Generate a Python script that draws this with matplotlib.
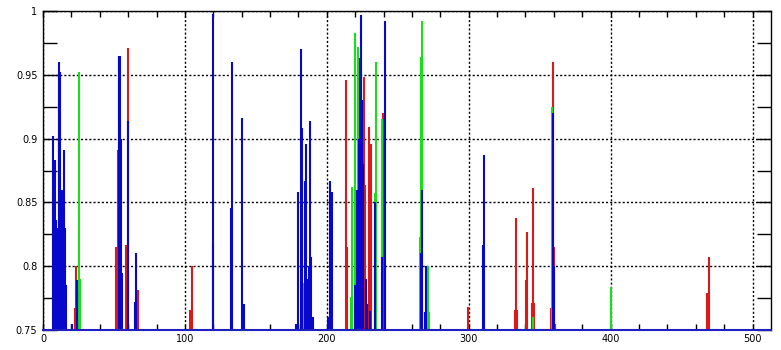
import matplotlib
matplotlib.use("Agg")
import matplotlib.pyplot as plt
from matplotlib.ticker import MultipleLocator

# Spike positions (x) and peak values (y) for each series
red_x = [22.5, 23.2, 51.4, 52.6, 53.3, 58.2, 59.6, 66.7, 103.5, 105.2, 213.3, 214.0,
         226.0, 226.8, 229.8, 231.0, 239.7, 299.5, 332.5, 333.1, 334.0, 340.5, 341.3,
         344.6, 345.3, 346.0, 358.0, 359.4, 360.0, 361.0, 467.8, 469.0]
red_y = [0.767, 0.800, 0.815, 0.891, 0.965, 0.817, 0.971, 0.781, 0.766, 0.800, 0.946, 0.815,
         0.948, 0.864, 0.909, 0.896, 0.920, 0.768, 0.766, 0.838, 0.766, 0.789, 0.827,
         0.771, 0.861, 0.771, 0.767, 0.960, 0.815, 0.755, 0.779, 0.807]

green_x = [25.4, 26.2, 183.3, 216.7, 217.8, 220.2, 222.0, 224.4, 233.8, 234.5, 239.2,
           265.5, 266.7, 267.4, 271.0, 272.0, 345.0, 359.0, 400.5]
green_y = [0.952, 0.790, 0.787, 0.776, 0.862, 0.983, 0.972, 0.997, 0.857, 0.960, 0.915,
           0.823, 0.964, 0.992, 0.800, 0.764, 0.760, 0.925, 0.784]

blue_x = [7.3, 8.0, 8.5, 9.0, 9.5, 10.0, 10.3, 11.0, 11.5, 12.2, 12.6, 13.1, 13.8, 14.3, 14.8,
          15.5, 16.2, 20.2,
          23.8, 24.3, 53.5, 54.2, 54.8, 55.9, 59.6, 64.5, 65.3, 119.5, 120.0, 132.8, 133.3,
          140.4, 140.9, 141.5, 178.6, 179.8, 181.5, 182.2, 184.5, 185.2, 186.0, 187.2, 188.0,
          189.2, 190.0, 200.5, 202.1, 204.0, 220.0, 221.0, 222.5, 223.3, 224.4, 225.0, 225.8,
          227.5, 228.5, 230.5, 233.8, 238.6, 240.8, 241.3, 266.7, 267.4, 269.0, 270.2,
          310.3, 310.8, 359.4, 360.0]
blue_y = [0.902, 0.840, 0.883, 0.836, 0.836, 0.830, 0.830, 0.950, 0.960, 0.952, 0.860, 0.860,
          0.850, 0.850, 0.891, 0.830, 0.785, 0.755,
          0.780, 0.789, 0.965, 0.965, 0.900, 0.795, 0.914, 0.772, 0.810, 0.818,
          0.998, 0.846, 0.960, 0.916, 0.770, 0.770, 0.755, 0.858, 0.970, 0.908, 0.867, 0.896,
          0.790, 0.800, 0.914, 0.807, 0.760, 0.760, 0.867, 0.858, 0.785, 0.860, 0.900, 0.963,
          0.997, 0.930, 0.880, 0.790, 0.770, 0.765, 0.850, 0.807, 0.992, 0.800, 0.810, 0.860,
          0.764, 0.800, 0.817, 0.887, 0.920, 0.800]

x_ticks = [0, 100, 200, 300, 400, 500]
y_ticks = [0.75, 0.8, 0.85, 0.9, 0.95, 1]
y_tick_labels = ["0.75", "0.8", "0.85", "0.9", "0.95", "1"]

BASE = 0.75

fig = plt.figure(figsize=(7.81, 3.5), dpi=100)
ax = fig.add_axes([43 / 781, 20 / 350, 728 / 781, 319 / 350])

ax.vlines(red_x, BASE, red_y, colors="#dd1818", linewidth=1.5, zorder=2)
ax.vlines(green_x, BASE, green_y, colors="#18e018", linewidth=1.5, zorder=3)
ax.vlines(blue_x, BASE, blue_y, colors="#0808cc", linewidth=1.5, zorder=4)

ax.set_xlim(0, 513)
ax.set_ylim(0.75, 1.0)

ax.set_xticks(x_ticks)
ax.set_xticklabels([str(v) for v in x_ticks])
ax.set_yticks(y_ticks)
ax.set_yticklabels(y_tick_labels)
ax.xaxis.set_minor_locator(MultipleLocator(20))
ax.yaxis.set_minor_locator(MultipleLocator(0.025))

ax.grid(True, which="major", color="black", linestyle=(0, (1.5, 1.5)), linewidth=1.0, zorder=1)
ax.set_axisbelow(True)

ax.tick_params(axis="both", which="both", direction="in", top=True, right=True,
               labelsize=7, colors="black", width=1.0)
ax.tick_params(axis="x", which="both", length=4, pad=3)
ax.tick_params(axis="y", which="both", length=10, pad=4)

for s in ["top", "left", "right"]:
    ax.spines[s].set_color("black")
    ax.spines[s].set_linewidth(1.0)
ax.spines["bottom"].set_color("#2020c0")
ax.spines["bottom"].set_linewidth(1.5)
ax.spines["bottom"].set_zorder(5)

fig.savefig("out.png", dpi=100)
